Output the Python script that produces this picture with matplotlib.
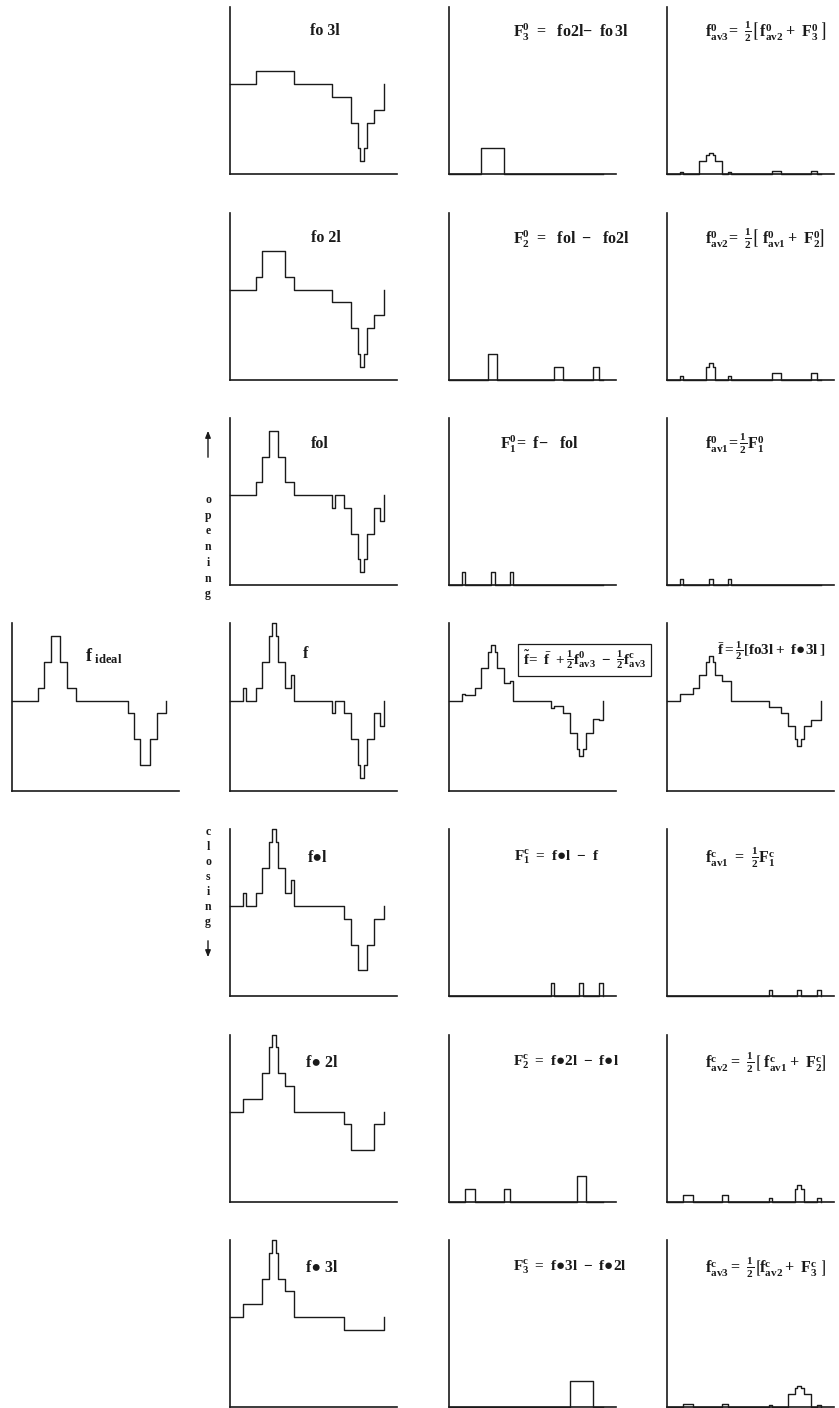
import matplotlib
matplotlib.use('Agg')
import matplotlib.pyplot as plt

plt.rcParams['font.family'] = ['Liberation Serif', 'DejaVu Serif']
plt.rcParams['font.weight'] = 'bold'
plt.rcParams['mathtext.fontset'] = 'custom'
plt.rcParams['mathtext.rm'] = 'Liberation Serif:bold'
plt.rcParams['mathtext.bf'] = 'Liberation Serif:bold'
plt.rcParams['mathtext.it'] = 'Liberation Serif:bold'
plt.rcParams['mathtext.default'] = 'bf'
plt.rcParams['mathtext.fallback'] = 'stix'

# ---------------- data (x = breakpoints, y = level from each breakpoint on; last point closes the step)
ideal_x = [0, 8, 10, 12, 15, 17, 20, 36, 38, 40, 43, 45, 48]
ideal_y = [7, 8, 10, 12, 10, 8, 7, 6, 4, 2, 4, 6, 7]

f_x = [0, 4.1, 5.1, 8, 10, 12, 13.2, 14.2, 14.8, 17, 19, 19.8, 31.7, 32.7, 35.5, 37.8, 39.9, 40.6, 41.6, 42.7, 44.7, 46.6, 48]
f_y = [7, 8, 7, 8, 10, 12, 13, 12, 10, 8, 9, 7, 6, 7, 6, 4, 2, 1, 2, 4, 6, 5, 7]

fo1_x = [0, 8, 10, 12, 14.8, 17, 19.8, 31.7, 32.7, 35.5, 37.8, 39.9, 40.6, 41.6, 42.7, 44.7, 46.6, 48]
fo1_y = [7, 8, 10, 12, 10, 8, 7, 6, 7, 6, 4, 2, 1, 2, 4, 6, 5, 7]

fo2_x = [0, 8, 10, 17, 19.8, 31.7, 37.8, 39.9, 40.6, 41.6, 42.7, 44.7, 48]
fo2_y = [7, 8, 10, 8, 7, 6, 4, 2, 1, 2, 4, 5, 7]

fo3_x = [0, 8, 19.8, 31.7, 37.8, 39.9, 40.6, 41.6, 42.7, 44.7, 48]
fo3_y = [7, 8, 7, 6, 4, 2, 1, 2, 4, 5, 7]

fc1_x = [0, 4.1, 5.1, 8, 10, 12, 13.2, 14.2, 14.8, 17, 19, 19.8, 35.5, 37.8, 39.9, 42.7, 44.7, 48]
fc1_y = [7, 8, 7, 8, 10, 12, 13, 12, 10, 8, 9, 7, 6, 4, 2, 4, 6, 7]

fc2_x = [0, 4.1, 10, 12, 13.2, 14.2, 14.8, 17, 19.8, 35.5, 37.8, 44.7, 48]
fc2_y = [7, 8, 10, 12, 13, 12, 10, 9, 7, 6, 4, 6, 7]

fc3_x = [0, 4.1, 10, 12, 13.2, 14.2, 14.8, 17, 19.8, 35.5, 48]
fc3_y = [7, 8, 10, 12, 13, 12, 10, 9, 7, 6, 7]

F3o_x = [0, 10, 17, 48]
F3o_y = [0, 2, 0, 0]
F2o_x = [0, 12, 14.8, 32.7, 35.5, 44.7, 46.6, 48]
F2o_y = [0, 2, 0, 1, 0, 1, 0, 0]
F1o_x = [0, 4.1, 5.1, 13.2, 14.2, 19, 19.8, 48]
F1o_y = [0, 1, 0, 1, 0, 1, 0, 0]

F1c_x = [0, 31.7, 32.7, 40.6, 41.6, 46.6, 48]
F1c_y = [0, 1, 0, 1, 0, 1, 0]
F2c_x = [0, 5.1, 8, 17, 19, 39.9, 42.7, 48]
F2c_y = [0, 1, 0, 1, 0, 2, 0, 0]
F3c_x = [0, 37.8, 44.7, 48]
F3c_y = [0, 2, 0, 0]

av1o_x = [0, 4.1, 5.1, 13.2, 14.2, 19, 19.8, 48]
av1o_y = [0, 0.5, 0, 0.5, 0, 0.5, 0, 0]
av2o_x = [0, 4.1, 5.1, 12, 13.2, 14.2, 14.8, 19, 19.8, 32.7, 35.5, 44.7, 46.6, 48]
av2o_y = [0, 0.25, 0, 1, 1.25, 1, 0, 0.25, 0, 0.5, 0, 0.5, 0, 0]
av3o_x = [0, 4.1, 5.1, 10, 12, 13.2, 14.2, 14.8, 17, 19, 19.8, 32.7, 35.5, 44.7, 46.6, 48]
av3o_y = [0, 0.125, 0, 1, 1.5, 1.6, 1.5, 1, 0, 0.125, 0, 0.25, 0, 0.25, 0, 0]

av1c_x = [0, 31.7, 32.7, 40.6, 41.6, 46.6, 48]
av1c_y = [0, 0.5, 0, 0.5, 0, 0.5, 0]
av2c_x = [0, 5.1, 8, 17, 19, 31.7, 32.7, 39.9, 40.6, 41.6, 42.7, 46.6, 48]
av2c_y = [0, 0.5, 0, 0.5, 0, 0.25, 0, 1, 1.25, 1, 0, 0.25, 0]
av3c_x = [0, 5.1, 8, 17, 19, 31.7, 32.7, 37.8, 39.9, 40.6, 41.6, 42.7, 44.7, 46.6, 48]
av3c_y = [0, 0.25, 0, 0.25, 0, 0.125, 0, 1, 1.5, 1.6, 1.5, 1, 0, 0.125, 0]

fbar_x = [0, 4.1, 8, 10, 12, 13.2, 14.2, 14.8, 17, 19.8, 31.7, 35.5, 37.8, 39.9, 40.6, 41.6, 42.7, 44.7, 48]
fbar_y = [7, 7.5, 8, 9, 10, 10.5, 10, 9, 8.5, 7, 6.5, 6, 5, 4, 3.5, 4, 5, 5.5, 7]

ftil_x = [0, 4.1, 5.1, 8, 10, 12, 13.2, 14.2, 14.8, 17, 19, 19.8, 31.7, 32.7, 35.5, 37.8, 39.9, 40.6, 41.6, 42.7, 44.7, 46.6, 48]
ftil_y = [7, 7.55, 7.4, 8, 9.5, 10.75, 11.3, 10.75, 9.5, 8.4, 8.55, 7, 6.45, 6.6, 6, 4.5, 3.25, 2.7, 3.25, 4.5, 5.6, 5.45, 7]

side_open = "opening"
side_close = "closing"

# ---------------- layout
W, H = 839, 1408
fig = plt.figure(figsize=(W / 100, H / 100), dpi=100)
INK = '#1a1a1a'
PW = 167
row_top = [7, 212.5, 418, 623.5, 829, 1034.5, 1240]
col_left = [230, 449, 667]


def panel(left, top, xs, ys):
    ax = fig.add_axes([left / W, 1 - (top + PW) / H, PW / W, PW / H])
    ax.set_xlim(0, 52)
    ax.set_ylim(0, 13)
    for s in ('top', 'right'):
        ax.spines[s].set_visible(False)
    for s in ('left', 'bottom'):
        ax.spines[s].set_linewidth(1.2)
        ax.spines[s].set_color(INK)
    ax.set_xticks([])
    ax.set_yticks([])
    ax.patch.set_alpha(0)
    ax.plot(xs, ys, drawstyle='steps-post', color=INK, lw=1.0, clip_on=False)
    return ax


def T(x, y, s, ha='left', size=11.5, **kw):
    return fig.text(x / W, 1 - y / H, s, ha=ha, va='center', fontsize=size,
                    fontweight='bold', color=INK, **kw)


grid = [
    [(fo3_x, fo3_y), (F3o_x, F3o_y), (av3o_x, av3o_y)],
    [(fo2_x, fo2_y), (F2o_x, F2o_y), (av2o_x, av2o_y)],
    [(fo1_x, fo1_y), (F1o_x, F1o_y), (av1o_x, av1o_y)],
    [(f_x, f_y), (ftil_x, ftil_y), (fbar_x, fbar_y)],
    [(fc1_x, fc1_y), (F1c_x, F1c_y), (av1c_x, av1c_y)],
    [(fc2_x, fc2_y), (F2c_x, F2c_y), (av2c_x, av2c_y)],
    [(fc3_x, fc3_y), (F3c_x, F3c_y), (av3c_x, av3c_y)],
]
for r, row in enumerate(grid):
    for c, (xs, ys) in enumerate(row):
        panel(col_left[c], row_top[r], xs, ys)
panel(12, 623.5, ideal_x, ideal_y)

LBL = 11.5
# ---------------- labels
T(325, 31, 'fo 3l', ha='center', size=LBL)
T(513, 32, r'$F_{3}^{0}\ =\ \ fo2l\!-\ fo\,3l$')
T(705, 32, r'$f_{av3}^{0}\!=\ \frac{1}{2}\left[\,f_{av2}^{0}+\ F_{3}^{0}\ \right]$')

T(326, 238, 'fo 2l', ha='center', size=LBL)
T(513, 239, r'$F_{2}^{0}\ =\ \ fol\ -\ \ fo2l$')
T(705, 239, r'$f_{av2}^{0}\!=\ \frac{1}{2}\left[\ f_{av1}^{0}+\ F_{2}^{0}\right]$')

T(320, 444, 'fol', ha='center', size=LBL)
T(500, 444, r'$F_{1}^{0}\!=\ f\!-\ \ fol$')
T(705, 444, r'$f_{av1}^{0}\!=\frac{1}{2}F_{1}^{0}$')

T(85, 656, r'$f_{\ ideal}$', size=13)
T(306, 654, 'f', ha='center', size=LBL)
T(584.5, 660, r'$\widetilde{f}\!=\ \bar{f}\ +\frac{1}{2}f_{av3}^{0}\ -\ \frac{1}{2}f_{av3}^{c}$', ha='center',
  size=10.8, bbox=dict(boxstyle='square,pad=0.3', facecolor='white', edgecolor=INK, lw=0.9))
T(717, 651, r'$\bar{f}=\frac{1}{2}\left[fo3l+\ f●3l\,\right]$', size=11)

T(318, 858, 'f●l', ha='center', size=LBL, family=['Liberation Serif', 'DejaVu Sans'])
T(514, 858, r'$F_{1}^{c}\ =\ f●l\ -\ f$', size=11)
T(705, 858, r'$f_{av1}^{c}\ =\ \frac{1}{2}F_{1}^{c}$')

T(322, 1063, 'f● 2l', ha='center', size=LBL, family=['Liberation Serif', 'DejaVu Sans'])
T(513, 1063, r'$F_{2}^{c}\ =\ f●2l\ -\ f●l$', size=11)
T(705, 1063, r'$f_{av2}^{c}=\ \frac{1}{2}\left[\ f_{av1}^{c}+\ F_{2}^{c}\right]$')

T(322, 1268, 'f● 3l', ha='center', size=LBL, family=['Liberation Serif', 'DejaVu Sans'])
T(513, 1268, r'$F_{3}^{c}\ =\ f●3l\ -\ f●2l$', size=11)
T(705, 1268, r'$f_{av3}^{c}=\ \frac{1}{2}\left[f_{av2}^{c}+\ F_{3}^{c}\ \right]$')

# ---------------- side annotations
for i, ch in enumerate(side_open):
    T(208, 500 + i * 15.7, ch, ha='center', size=8.5)
for i, ch in enumerate(side_close):
    T(208, 832 + i * 15.0, ch, ha='center', size=8.5)
fig.add_artist(matplotlib.patches.FancyArrowPatch((208 / W, 1 - 460 / H), (208 / W, 1 - 428 / H),
               transform=fig.transFigure, arrowstyle='-|>,head_length=4,head_width=1.6',
               color=INK, lw=1.0))
fig.add_artist(matplotlib.patches.FancyArrowPatch((208 / W, 1 - 938 / H), (208 / W, 1 - 960 / H),
               transform=fig.transFigure, arrowstyle='-|>,head_length=4,head_width=1.6',
               color=INK, lw=1.0))

fig.savefig('out.png', dpi=100, facecolor='white')
